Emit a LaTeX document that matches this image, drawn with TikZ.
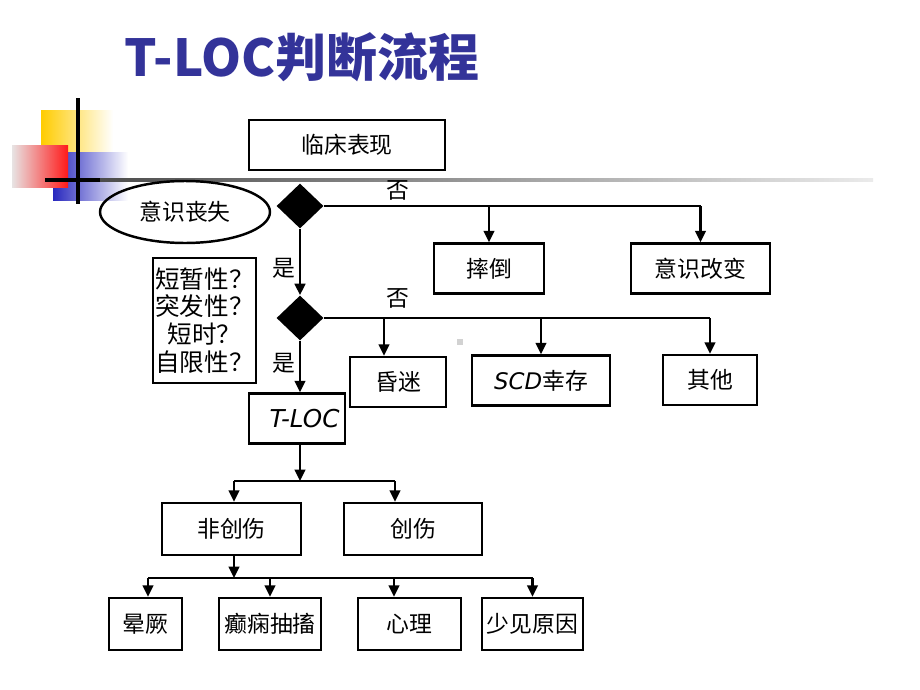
\documentclass[tikz,border=0pt]{standalone}
\usepackage{fontspec}
\setmainfont{Noto Sans CJK SC}
\newfontfamily\latfont{DejaVu Sans}
\usetikzlibrary{shapes.geometric,arrows.meta}
\definecolor{titleblue}{RGB}{51,51,153}
\definecolor{decoblue}{RGB}{40,40,190}
\definecolor{decoyellow}{RGB}{255,204,0}
\tikzset{
  box/.style={draw,line width=1.4pt,minimum height=1cm,inner sep=2pt,font=\fontsize{13}{15}\selectfont},
  dia/.style={diamond,fill=black,minimum width=0.94cm,minimum height=0.9cm,inner sep=0pt},
  lbl/.style={font=\fontsize{13}{15}\selectfont},
  conn/.style={line width=1.5pt},
  arr/.style={conn,-{Triangle[length=6.5pt,width=6pt]}},
}
\begin{document}
\begin{tikzpicture}[x=0.02cm,y=-0.02cm]
\useasboundingbox (0,0) rectangle (920,690);
% corner decoration
\shade[left color=decoyellow,right color=white] (41,110) rectangle (113,170);
\shade[left color=decoblue,right color=white] (53,152) rectangle (128,200);
\shade[left color=red!8!gray!20,right color=red!90] (12,145) rectangle (68,187);
\draw[line width=2pt] (78,98) -- (78,204);
\draw[line width=2pt] (45,180) -- (100,180);
\shade[left color=black!70,right color=black!8] (100,178.6) rectangle (873,181.4);
\fill[gray!35] (457,339) rectangle (463,345);
% title
\node[font=\fontsize{29}{34}\selectfont\bfseries,text=titleblue] (title) at (302,57) {T-LOC判断流程};
% nodes
\node[box,minimum width=3.92cm] (clin) at (347,145) {临床表现};
\node[ellipse,draw,line width=1.4pt,minimum width=3.4cm,minimum height=1.24cm,font=\fontsize{13}{15}\selectfont] (loss) at (185,212) {意识丧失};
\node[dia] (d1) at (300,206) {};
\node[box,minimum width=2.2cm] (shuai) at (489,268.5) {摔倒};
\node[box,minimum width=2.78cm] (gaibian) at (700.5,268.5) {意识改变};
\node[box,minimum width=2.06cm,minimum height=2.5cm,align=center,inner sep=1pt,font=\fontsize{14}{15.8}\selectfont] (quest) at (204.5,320.5) {短暂性？\\突发性？\\短时？\\自限性？};
\node[dia] (d2) at (300,318) {};
\node[box,minimum width=1.92cm] (hunmi) at (398,382) {昏迷};
\node[box,minimum width=2.76cm] (scd) at (541,380.5) {{\latfont\itshape SCD}幸存};
\node[box,minimum width=1.88cm] (qita) at (710,380) {其他};
\node[box,minimum width=1.92cm] (tloc) at (297,418.5) {\hspace{0.3cm}{\latfont\itshape\fontsize{14}{15}\selectfont T-LOC}};
\node[box,minimum width=2.78cm,minimum height=1.04cm] (fei) at (231.5,529) {非创伤};
\node[box,minimum width=2.76cm,minimum height=1.04cm] (chuang) at (413,529) {创伤};
\node[box,minimum width=1.46cm,minimum height=1.04cm] (yun) at (145.5,624) {晕厥};
\node[box,minimum width=2.04cm,minimum height=1.04cm] (dian) at (270,624) {癫痫抽搐};
\node[box,minimum width=2.06cm,minimum height=1.04cm] (xinli) at (409.5,624) {心理};
\node[box,minimum width=2.02cm,minimum height=1.04cm] (shao) at (532.5,624) {少见原因};
% labels
\node[lbl] (no1) at (398,190) {否};
\node[lbl] (yes1) at (284,268) {是};
\node[lbl] (no2) at (398,298) {否};
\node[lbl] (yes2) at (284,363) {是};
% branch points
\coordinate (hm) at ([xshift=-0.28cm]hunmi.north);
\coordinate (j1) at (300,481);
\coordinate (fa) at ([xshift=0.05cm]fei.north);
\coordinate (ca) at ([xshift=-0.36cm]chuang.north);
\coordinate (j2) at (234,578);
\coordinate (ya) at ([xshift=0.05cm]yun.north);
\coordinate (xa) at ([xshift=-0.31cm]xinli.north);
% connectors
\draw[conn] (d1.east) -- (gaibian.north |- d1.east);
\draw[arr] (shuai.north |- d1.east) -- (shuai.north);
\draw[arr] (gaibian.north |- d1.east) -- (gaibian.north);
\draw[arr] (d1.south) -- (d2.north);
\draw[conn] (d2.east) -- (qita.north |- d2.east);
\draw[arr] (hm |- d2.east) -- (hm);
\draw[arr] (scd.north |- d2.east) -- (scd.north);
\draw[arr] (qita.north |- d2.east) -- (qita.north);
\draw[arr] (d2.south) -- (d2.south |- tloc.north);
\draw[arr] (tloc.south -| j1) -- (j1);
\draw[conn] (fa |- j1) -- (ca |- j1);
\draw[arr] (fa |- j1) -- (fa);
\draw[arr] (ca |- j1) -- (ca);
\draw[arr] (fei.south -| j2) -- (j2);
\draw[conn] (ya |- j2) -- (shao.north |- j2);
\draw[arr] (ya |- j2) -- (ya);
\draw[arr] (dian.north |- j2) -- (dian.north);
\draw[arr] (xa |- j2) -- (xa);
\draw[arr] (shao.north |- j2) -- (shao.north);
\end{tikzpicture}
\end{document}
